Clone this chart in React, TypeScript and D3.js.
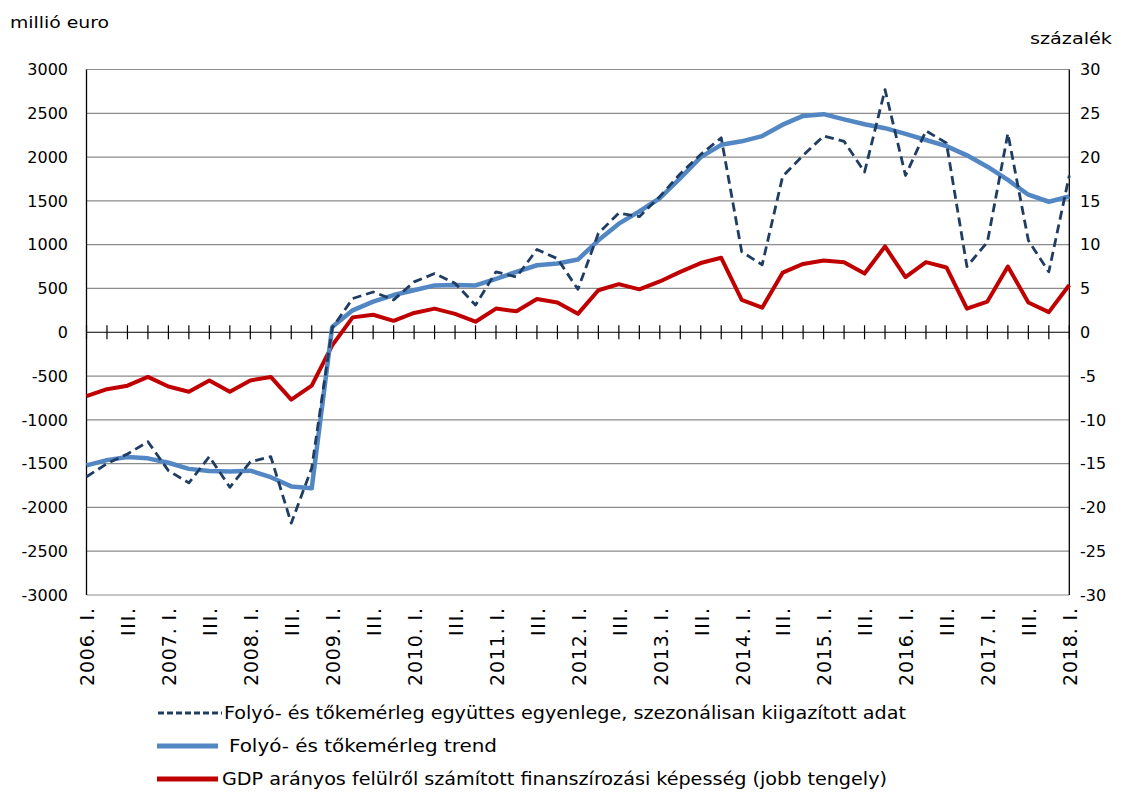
import React from "react";
import * as d3 from "d3";

const quarters: string[] = [];
for (let y = 2006; y <= 2018; y++) {
  for (const q of ["I.", "II.", "III.", "IV."]) {
    if (y === 2018 && q !== "I.") continue;
    quarters.push(`${y}. ${q}`);
  }
}

const seasonal = [-1650, -1500, -1390, -1250, -1580, -1720, -1420, -1770, -1480, -1420, -2180, -1550,
  50, 385, 460, 370, 575, 670, 560, 310, 690, 630, 945, 840,
  490, 1130, 1360, 1320, 1550, 1810, 2030, 2220, 920, 770, 1780, 2020,
  2240, 2180, 1830, 2770, 1790, 2300, 2160, 750, 1030, 2270, 1050, 690, 1790];

const trend = [-1520, -1460, -1425, -1440, -1490, -1560, -1585, -1590, -1580, -1655, -1760, -1780,
  60, 250, 350, 425, 480, 535, 540, 535, 610, 690, 765, 785,
  830, 1050, 1240, 1380, 1530, 1760, 2000, 2140, 2180, 2240, 2370, 2470,
  2490, 2430, 2375, 2330, 2265, 2195, 2125, 2020, 1890, 1740, 1570, 1490, 1550];

const gdpRatio = [-7.3, -6.5, -6.1, -5.1, -6.2, -6.8, -5.5, -6.8, -5.5, -5.1, -7.7, -6.1,
  -1.5, 1.7, 2.0, 1.3, 2.2, 2.7, 2.1, 1.2, 2.7, 2.4, 3.8, 3.4,
  2.1, 4.8, 5.5, 4.9, 5.8, 6.9, 7.9, 8.5, 3.7, 2.8, 6.8, 7.8,
  8.2, 8.0, 6.7, 9.8, 6.3, 8.0, 7.4, 2.7, 3.5, 7.5, 3.4, 2.3, 5.4];

const leftTicks = [3000, 2500, 2000, 1500, 1000, 500, 0, -500, -1000, -1500, -2000, -2500, -3000];
const rightTicks = [30, 25, 20, 15, 10, 5, 0, -5, -10, -15, -20, -25, -30];

const legendItems = [
  { label: "Folyó- és tőkemérleg együttes egyenlege, szezonálisan kiigazított adat", kind: "dashed" },
  { label: " Folyó- és tőkemérleg trend", kind: "trend" },
  { label: "GDP arányos felülről számított finanszírozási képesség (jobb tengely)", kind: "gdp" },
];

const NAVY = "#1F3D63";
const BLUE = "#5287C4";
const RED = "#C00000";

export default function App() {
  const W = 1122, H = 793;
  const x0 = 86.5, x1 = 1069.3;
  const yTop = 69.5, yBot = 595;
  const x = d3.scalePoint<number>().domain(d3.range(quarters.length)).range([x0, x1]);
  const yL = d3.scaleLinear().domain([-3000, 3000]).range([yBot, yTop]);
  const yR = d3.scaleLinear().domain([-30, 30]).range([yBot, yTop]);

  const lineL = d3.line<number>().x((_, i) => x(i)!).y((d) => yL(d));
  const lineR = d3.line<number>().x((_, i) => x(i)!).y((d) => yR(d));

  const font = "'DejaVu Sans', Verdana, sans-serif";
  const legendFont = "'DejaVu Sans Condensed', 'DejaVu Sans', sans-serif";
  const legendX = [[158, 222, 224, 906], [157, 218, 229, 497], [157, 218, 222, 887]];
  const legendY = [713, 746, 779];

  return (
    <svg width={W} height={H} style={{ position: "absolute", left: 0, top: 0, background: "#fff" }}>
      <rect width={W} height={H} fill="#fff" />
      {leftTicks.map((t) => (
        <line key={t} x1={x0} x2={x1} y1={yL(t)} y2={yL(t)} stroke={t === 0 ? "#000" : "#8c8c8c"} strokeWidth={1.2} />
      ))}
      <line x1={x0} x2={x0} y1={yTop} y2={yBot} stroke="#000" strokeWidth={1.3} />
      <line x1={x1} x2={x1} y1={yTop} y2={yBot} stroke="#000" strokeWidth={1.3} />
      {quarters.map((_, i) => (
        <line key={i} x1={x(i)} x2={x(i)} y1={yL(0) - 7} y2={yL(0) + 7} stroke="#000" strokeWidth={1.2} />
      ))}
      {leftTicks.map((t) => (
        <text key={t} x={68} y={yL(t)} dy="0.36em" textAnchor="end" fontFamily={font} fontSize={16} fill="#000">
          {t}
        </text>
      ))}
      {rightTicks.map((t) => (
        <text key={t} x={1080} y={yR(t)} dy="0.36em" textAnchor="start" fontFamily={font} fontSize={16} fill="#000">
          {t}
        </text>
      ))}
      {quarters.map((q, i) => {
        if (i % 2 !== 0) return null;
        const isIII = q.endsWith("III.");
        const lab = isIII ? "III." : q;
        const px = x(i)! + 1;
        const py = 608;
        return (
          <text key={i} transform={`translate(${px},${py}) rotate(-90)`} dy="0.36em" textAnchor="end" fontFamily={font} fontSize={19} fill="#000"
            textLength={isIII ? 28 : 78} lengthAdjust="spacing">
            {lab}
          </text>
        );
      })}
      <path d={lineR(gdpRatio) ?? ""} fill="none" stroke={RED} strokeWidth={4} strokeLinejoin="round" />
      <path d={lineL(trend) ?? ""} fill="none" stroke={BLUE} strokeWidth={4.5} strokeLinejoin="round" />
      <path d={lineL(seasonal) ?? ""} fill="none" stroke={NAVY} strokeWidth={2.8} strokeDasharray="9,5" strokeLinejoin="round" />
      <text x={10} y={22} dy="0.36em" fontFamily={legendFont} fontSize={16} fill="#000" textLength={99} lengthAdjust="spacingAndGlyphs">millió euro</text>
      <text x={1112} y={38} dy="0.36em" textAnchor="end" fontFamily={legendFont} fontSize={16} fill="#000" textLength={82} lengthAdjust="spacingAndGlyphs">százalék</text>
      {legendItems.map((it, k) => {
        const [lx0, lx1, tx, tx1] = legendX[k];
        const ly = legendY[k];
        return (
          <g key={k}>
            {it.kind === "dashed" ? (
              <line x1={lx0} x2={lx1} y1={ly} y2={ly} stroke={NAVY} strokeWidth={3} strokeDasharray="6,3" />
            ) : (
              <line x1={lx0} x2={lx1} y1={ly} y2={ly} stroke={it.kind === "trend" ? BLUE : RED} strokeWidth={5} />
            )}
            <text x={tx} y={ly} dy="0.36em" fontFamily={legendFont} fontSize={17} fill="#000"
              textLength={tx1 - tx} lengthAdjust="spacingAndGlyphs">
              {it.label}
            </text>
          </g>
        );
      })}
    </svg>
  );
}
